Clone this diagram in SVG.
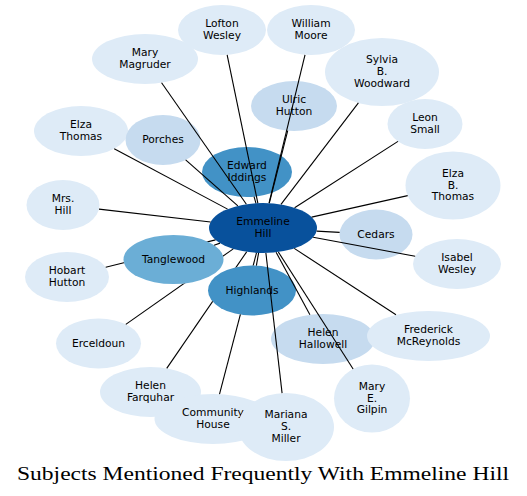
<svg xmlns="http://www.w3.org/2000/svg" width="527" height="496" viewBox="0 0 527 496">
<style>
.n text{font-family:"DejaVu Sans",Verdana,sans-serif;font-size:10.7px;fill:#000;text-anchor:middle}
.c0{fill:#08519c}.c1{fill:#4292c6}.c2{fill:#6baed6}.c3{fill:#c6dbef}.c4{fill:#deebf7}
#edges line{stroke:#000;stroke-width:1.1}
.title{font-family:"Liberation Serif","DejaVu Serif",serif;font-size:19px;fill:#000;text-anchor:middle}
</style>
<defs>
<mask id="mT" maskUnits="userSpaceOnUse" x="0" y="0" width="527" height="496"><rect width="527" height="496" fill="#fff"/><ellipse cx="173.5" cy="259.5" rx="50" ry="24.5" fill="#000"/></mask>
<mask id="mH" maskUnits="userSpaceOnUse" x="0" y="0" width="527" height="496"><rect width="527" height="496" fill="#fff"/><ellipse cx="252" cy="290.5" rx="44" ry="25" fill="#000"/></mask>
</defs>
<rect width="527" height="496" fill="#fff"/>
<g id="nodes">
<g id="n-lofton" class="n"><ellipse class="c4" cx="222" cy="30" rx="44" ry="25"/><text x="222" y="27.1">Lofton</text><text x="222" y="38.9">Wesley</text></g>
<g id="n-william" class="n"><ellipse class="c4" cx="311" cy="30" rx="44" ry="25"/><text x="311" y="27.1">William</text><text x="311" y="38.9">Moore</text></g>
<g id="n-magruder" class="n"><ellipse class="c4" cx="145" cy="59" rx="53" ry="25"/><text x="145" y="56.1">Mary</text><text x="145" y="67.9">Magruder</text></g>
<g id="n-sylvia" class="n"><ellipse class="c4" cx="382" cy="72" rx="57" ry="34"/><text x="382" y="63.2">Sylvia</text><text x="382" y="75">B.</text><text x="382" y="86.8">Woodward</text></g>
<g id="n-leon" class="n"><ellipse class="c4" cx="425" cy="124" rx="37.5" ry="25"/><text x="425" y="121.1">Leon</text><text x="425" y="132.9">Small</text></g>
<g id="n-elza" class="n"><ellipse class="c4" cx="81" cy="131" rx="47" ry="25"/><text x="81" y="128.1">Elza</text><text x="81" y="139.9">Thomas</text></g>
<g id="n-porches" class="n"><ellipse class="c3" cx="163" cy="140" rx="37.5" ry="25"/><text x="163" y="143">Porches</text></g>
<g id="n-ulric" class="n"><ellipse class="c3" cx="294" cy="106" rx="43" ry="25"/><text x="294" y="103.1">Ulric</text><text x="294" y="114.9">Hutton</text></g>
<g id="n-edward" class="n"><ellipse class="c1" cx="247" cy="172" rx="45" ry="25"/><text x="247" y="169.1">Edward</text><text x="247" y="180.9">Iddings</text></g>
<g id="n-mrshill" class="n"><ellipse class="c4" cx="63" cy="205" rx="36.5" ry="25"/><text x="63" y="202.1">Mrs.</text><text x="63" y="213.9">Hill</text></g>
<g id="n-elzab" class="n"><ellipse class="c4" cx="453" cy="185.5" rx="47.5" ry="34"/><text x="453" y="176.7">Elza</text><text x="453" y="188.5">B.</text><text x="453" y="200.3">Thomas</text></g>
<g id="n-cedars" class="n"><ellipse class="c3" cx="376" cy="234.5" rx="36.5" ry="25"/><text x="376" y="237.5">Cedars</text></g>
<g id="n-isabel" class="n"><ellipse class="c4" cx="457" cy="264" rx="44" ry="25"/><text x="457" y="261.1">Isabel</text><text x="457" y="272.9">Wesley</text></g>
<g id="n-hobart" class="n"><ellipse class="c4" cx="67" cy="277" rx="42" ry="25"/><text x="67" y="274.1">Hobart</text><text x="67" y="285.9">Hutton</text></g>
<g id="n-tanglewood" class="n"><ellipse class="c2" cx="173.5" cy="259.5" rx="50" ry="24.5"/><text x="173.5" y="262.5">Tanglewood</text></g>
<g id="n-highlands" class="n"><ellipse class="c1" cx="252" cy="290.5" rx="44" ry="25"/><text x="252" y="293.5">Highlands</text></g>
<g id="n-erceldoun" class="n"><ellipse class="c4" cx="98.5" cy="343.5" rx="42.5" ry="25"/><text x="98.5" y="346.5">Erceldoun</text></g>
<g id="n-farquhar" class="n"><ellipse class="c4" cx="150.5" cy="392" rx="50.5" ry="25"/><text x="150.5" y="389.1">Helen</text><text x="150.5" y="400.9">Farquhar</text></g>
<g id="n-community" class="n"><ellipse class="c4" cx="213" cy="419" rx="58.5" ry="25"/><text x="213" y="416.1">Community</text><text x="213" y="427.9">House</text></g>
<g id="n-mariana" class="n"><ellipse class="c4" cx="286" cy="427" rx="48" ry="34"/><text x="286" y="418.2">Mariana</text><text x="286" y="430">S.</text><text x="286" y="441.8">Miller</text></g>
<g id="n-hallowell" class="n"><ellipse class="c3" cx="323" cy="339" rx="52" ry="25"/><text x="323" y="336.1">Helen</text><text x="323" y="347.9">Hallowell</text></g>
<g id="n-frederick" class="n"><ellipse class="c4" cx="428.5" cy="336" rx="61.5" ry="25"/><text x="428.5" y="333.1">Frederick</text><text x="428.5" y="344.9">McReynolds</text></g>
<g id="n-gilpin" class="n"><ellipse class="c4" cx="372" cy="398.5" rx="38" ry="34"/><text x="372" y="389.7">Mary</text><text x="372" y="401.5">E.</text><text x="372" y="413.3">Gilpin</text></g>
<g id="n-emmeline" class="n"><ellipse class="c0" cx="263" cy="228" rx="54" ry="25"/><text x="263" y="225.1">Emmeline</text><text x="263" y="236.9">Hill</text></g>
</g>
<g id="edges">
<line x1="257.85" y1="203.11" x2="227.14" y2="54.83"/>
<line x1="269.02" y1="203.16" x2="305.0" y2="54.77"/>
<line x1="246.39" y1="204.21" x2="161.58" y2="82.75"/>
<line x1="280.98" y1="204.43" x2="358.39" y2="102.95"/>
<line x1="294.59" y1="207.72" x2="397.99" y2="141.34"/>
<line x1="227.58" y1="209.12" x2="114.21" y2="148.70"/>
<line x1="237.86" y1="205.87" x2="185.65" y2="159.93"/>
<line x1="255.92" y1="203.22" x2="254.05" y2="196.69"/>
<line x1="269.31" y1="203.17" x2="287.72" y2="130.73"/>
<line x1="210.59" y1="221.97" x2="99.0" y2="209.14"/>
<line x1="311.62" y1="217.12" x2="407.66" y2="195.64"/>
<line x1="316.59" y1="231.08" x2="339.63" y2="232.41"/>
<line x1="313.12" y1="237.30" x2="415.17" y2="256.24"/>
<line x1="220.01" y1="243.13" x2="214.11" y2="245.21"/>
<line x1="215.49" y1="239.88" x2="105.72" y2="267.32" mask="url(#mT)"/>
<line x1="258.61" y1="252.92" x2="256.38" y2="265.62"/>
<line x1="233.27" y1="248.87" x2="125.79" y2="324.34" mask="url(#mT)"/>
<line x1="246.65" y1="251.83" x2="166.74" y2="368.33" mask="url(#mH)"/>
<line x1="256.50" y1="252.82" x2="219.50" y2="394.15" mask="url(#mH)"/>
<line x1="265.89" y1="252.96" x2="282.08" y2="393.12"/>
<line x1="276.11" y1="252.25" x2="309.92" y2="314.81"/>
<line x1="294.24" y1="248.39" x2="395.98" y2="314.78"/>
<line x1="278.32" y1="251.97" x2="353.13" y2="368.99"/>
</g>
<text class="title" x="263" y="480" textLength="492" lengthAdjust="spacingAndGlyphs">Subjects Mentioned Frequently With Emmeline Hill</text>
</svg>
